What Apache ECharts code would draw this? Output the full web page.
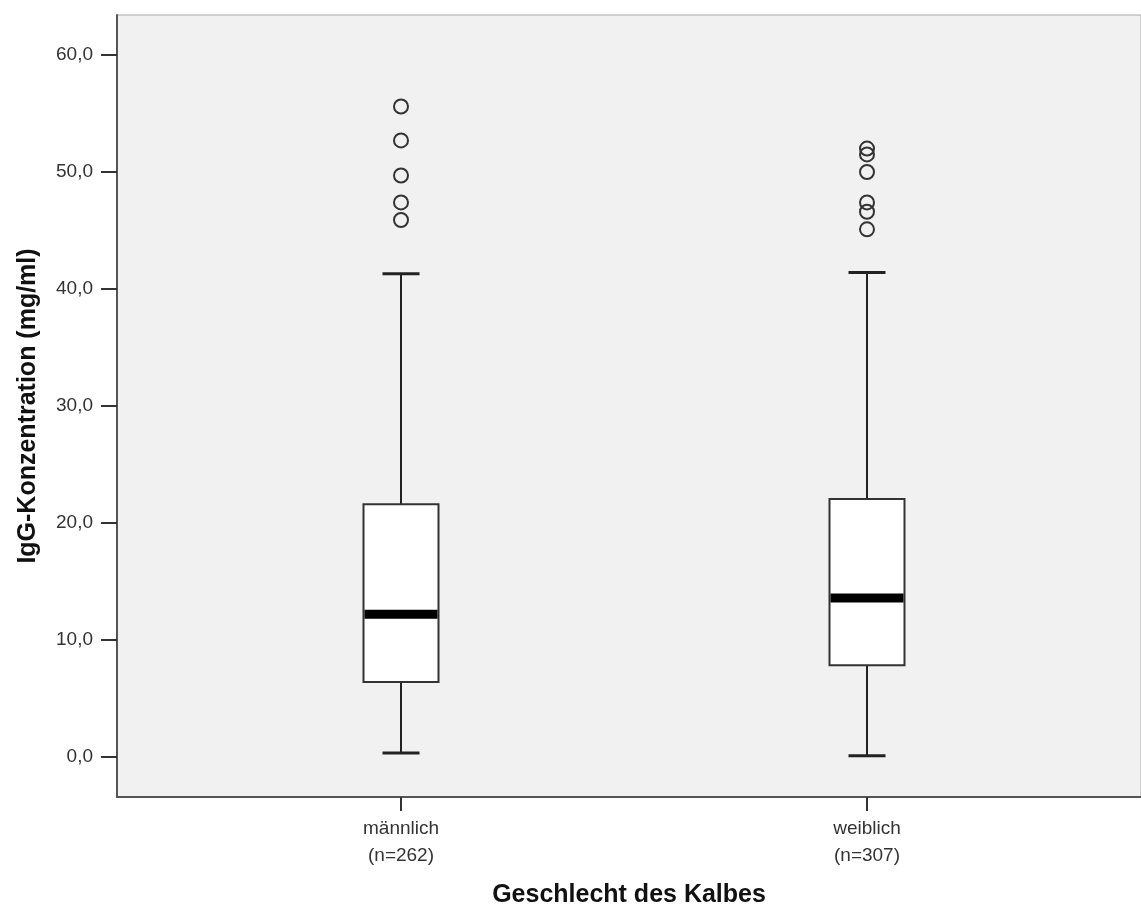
<!DOCTYPE html>
<html>
<head>
<meta charset="utf-8">
<script src="https://cdn.jsdelivr.net/npm/echarts@6/dist/echarts.min.js"></script>
<style>
  html, body { margin: 0; padding: 0; background: #fff; }
  #chart { width: 1141px; height: 914px; }
</style>
</head>
<body>
<div id="chart"></div>
<script>
// data
const categories = ['männlich\n(n=262)', 'weiblich\n(n=307)'];
const whiskerLow = [0.35, 0.1];
const quartile1 = [6.4, 7.85];
const median = [12.2, 13.6];
const quartile3 = [21.6, 22.05];
const whiskerHigh = [41.3, 41.4];
const outliersMale = [55.6, 52.7, 49.7, 47.4, 45.9];
const outliersFemale = [52.0, 51.5, 50.0, 47.4, 46.6, 45.1];
const yTicks = { min: 0, max: 60, interval: 10 };

const font = 'Arial, "Liberation Sans", sans-serif';

// plot frame: top 15, bottom 797; value 60 at y=55, value 0 at y=757
const pxPerUnit = (757 - 55) / (yTicks.max - yTicks.min);
const frameMin = yTicks.min - (797 - 757) / pxPerUnit;

const boxData = categories.map((c, i) => [i, whiskerLow[i], quartile1[i], median[i], quartile3[i], whiskerHigh[i]]);
const outlierData = outliersMale.map(v => [0, v]).concat(outliersFemale.map(v => [1, v]));

function renderBox(params, api) {
  const idx = api.value(0);
  const pLow = api.coord([idx, api.value(1)]);
  const pQ1 = api.coord([idx, api.value(2)]);
  const pMed = api.coord([idx, api.value(3)]);
  const pQ3 = api.coord([idx, api.value(4)]);
  const pHigh = api.coord([idx, api.value(5)]);
  const x = pMed[0];
  const boxW = 75, capW = 37, medH = 9;
  const line = { stroke: '#222', lineWidth: 2 };
  return {
    type: 'group',
    children: [
      { type: 'line', shape: { x1: x, y1: pHigh[1], x2: x, y2: pQ3[1] }, style: line },
      { type: 'line', shape: { x1: x, y1: pQ1[1], x2: x, y2: pLow[1] }, style: line },
      { type: 'line', shape: { x1: x - capW / 2, y1: pHigh[1], x2: x + capW / 2, y2: pHigh[1] }, style: { stroke: '#222', lineWidth: 3 } },
      { type: 'line', shape: { x1: x - capW / 2, y1: pLow[1], x2: x + capW / 2, y2: pLow[1] }, style: { stroke: '#222', lineWidth: 3 } },
      { type: 'rect', shape: { x: x - boxW / 2, y: pQ3[1], width: boxW, height: pQ1[1] - pQ3[1] }, style: { fill: '#fff', stroke: '#333', lineWidth: 2 } },
      { type: 'rect', shape: { x: x - boxW / 2 + 1, y: pMed[1] - medH / 2, width: boxW - 2, height: medH }, style: { fill: '#000' } }
    ]
  };
}

const chart = echarts.init(document.getElementById('chart'));
const option = {
  animation: false,
  textStyle: { fontFamily: font },
  grid: [
    { left: 117, right: -5, top: 15, bottom: 117, show: true, backgroundColor: '#f1f1f1', borderColor: '#a8a8a8', borderWidth: 1 },
    { left: 117, right: -5, top: 55, bottom: 157 },
    { left: 168, right: 41, top: 55, bottom: 117 }
  ],
  xAxis: [
    {
      gridIndex: 0, type: 'category', data: ['a'],
      axisLine: { onZero: false, lineStyle: { color: '#555', width: 2 } },
      axisTick: { show: false }, axisLabel: { show: false },
      name: 'Geschlecht des Kalbes', nameLocation: 'middle', nameGap: 86,
      nameTextStyle: { fontSize: 25, fontWeight: 'bold', color: '#111', fontFamily: font }
    },
    { gridIndex: 1, type: 'category', data: ['a'], show: false },
    {
      gridIndex: 2, type: 'category', data: categories,
      axisLine: { show: false, onZero: false },
      axisTick: { show: true, alignWithLabel: true, length: 14, lineStyle: { color: '#333', width: 2 } },
      axisLabel: { fontSize: 19, color: '#333', lineHeight: 27, margin: 18, fontFamily: font }
    }
  ],
  yAxis: [
    {
      gridIndex: 0, type: 'value', min: 0, max: 1,
      axisLine: { show: true, onZero: false, lineStyle: { color: '#555', width: 2 } },
      axisTick: { show: false }, axisLabel: { show: false }, splitLine: { show: false }
    },
    {
      gridIndex: 1, type: 'value', min: yTicks.min, max: yTicks.max, interval: yTicks.interval,
      axisLine: { show: false },
      axisTick: { show: true, length: 16, lineStyle: { color: '#333', width: 2 } },
      axisLabel: { fontSize: 19, color: '#333', margin: 24, fontFamily: font, formatter: v => v.toFixed(1).replace('.', ',') },
      splitLine: { show: false },
      name: 'IgG-Konzentration (mg/ml)', nameLocation: 'middle', nameGap: 76,
      nameTextStyle: { fontSize: 25, fontWeight: 'bold', color: '#111', fontFamily: font }
    },
    {
      gridIndex: 2, type: 'value', min: frameMin, max: yTicks.max, show: false
    }
  ],
  series: [
    {
      type: 'custom', xAxisIndex: 2, yAxisIndex: 2,
      renderItem: renderBox,
      encode: { x: 0, y: [1, 2, 3, 4, 5] },
      data: boxData
    },
    {
      type: 'scatter', xAxisIndex: 2, yAxisIndex: 2,
      symbol: 'circle', symbolSize: 14,
      itemStyle: { color: 'rgba(0,0,0,0)', borderColor: '#333', borderWidth: 2, opacity: 1 },
      data: outlierData
    }
  ]
};
chart.setOption(option);
</script>
</body>
</html>
